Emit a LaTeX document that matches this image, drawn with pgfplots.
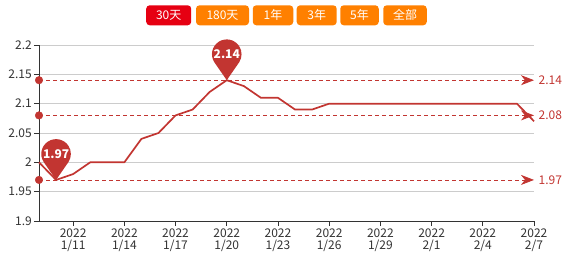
\documentclass[border=0pt]{standalone}
\usepackage{pgfplots}
\pgfplotsset{compat=1.18}
\usepackage{pgfplotstable}
\usepackage{fontspec}
\setmainfont{Noto Sans CJK SC}
\usetikzlibrary{arrows.meta}

\definecolor{lineRed}{HTML}{C23531}
\definecolor{btnRed}{HTML}{E60012}
\definecolor{btnOrange}{HTML}{FF8000}
\definecolor{gridGray}{HTML}{CCCCCC}
\definecolor{axisDark}{HTML}{333333}
\definecolor{labelGray}{HTML}{333333}

% balloon-shaped marker: tip at the data point, round head above it
\pgfdeclareplotmark{pin}{%
  \pgfpathmoveto{\pgfpointorigin}%
  \pgfpathlineto{\pgfpointadd{\pgfpoint{0pt}{26pt}}{\pgfpointpolar{212.6}{14.8pt}}}%
  \pgfpatharc{212.6}{-32.6}{14.8pt}%
  \pgfpathclose
  \pgfusepathqfill
}

% day index (0 = 1/9) and unit net value
\pgfplotstableread{
day value
0 2.00
1 1.97
2 1.98
3 2.00
4 2.00
5 2.00
6 2.04
7 2.05
8 2.08
9 2.09
10 2.12
11 2.14
12 2.13
13 2.11
14 2.11
15 2.09
16 2.09
17 2.10
18 2.10
19 2.10
20 2.10
21 2.10
22 2.10
23 2.10
24 2.10
25 2.10
26 2.10
27 2.10
28 2.10
29 2.07
}\navdata

\newcommand{\btnfont}{\fontsize{12}{12}\selectfont}
\newcommand{\tickfont}{\fontsize{12}{12}\selectfont}

\begin{document}
\begin{tikzpicture}
\useasboundingbox (0,0) rectangle (577pt,254pt);

% range buttons
\tikzset{btn/.style={rounded corners=3.5pt, minimum height=20pt, inner sep=0pt,
  text=white, font=\btnfont}}
\node[btn, fill=btnRed,    minimum width=45pt] at (168.7pt,238.7pt) {30天};
\node[btn, fill=btnOrange, minimum width=53pt] at (222.5pt,238.7pt) {180天};
\node[btn, fill=btnOrange, minimum width=40.5pt] at (273pt,238.7pt) {1年};
\node[btn, fill=btnOrange, minimum width=40pt] at (316.7pt,238.7pt) {3年};
\node[btn, fill=btnOrange, minimum width=38.5pt] at (359.5pt,238.7pt) {5年};
\node[btn, fill=btnOrange, minimum width=43.5pt] at (405pt,238.7pt) {全部};

\begin{axis}[
  at={(39pt,33pt)}, anchor=south west,
  width=495pt, height=176pt, scale only axis,
  xmin=0, xmax=29, ymin=1.9, ymax=2.2,
  axis x line*=bottom, axis y line*=left,
  axis line style={axisDark, line width=0.8pt},
  every tick/.style={axisDark, line width=0.8pt},
  tick align=outside, major tick length=5pt,
  ytick={1.9,1.95,2,2.05,2.1,2.15,2.2},
  yticklabels={1.9,1.95,2,2.05,2.1,2.15,2.2},
  xtick={2,5,8,11,14,17,20,23,26,29},
  xticklabels={2022\\1/11,2022\\1/14,2022\\1/17,2022\\1/20,2022\\1/23,
               2022\\1/26,2022\\1/29,2022\\2/1,2022\\2/4,2022\\2/7},
  x tick label style={align=center, font=\tickfont, text=labelGray, inner sep=1pt, yshift=-2pt},
  y tick label style={font=\tickfont, text=labelGray, inner sep=1pt, xshift=-1pt},
  ymajorgrids, grid style={gridGray, line width=0.8pt},
  clip=false,
]
% net value line
\addplot[lineRed, line width=1.7pt, line join=round, mark=none]
  table[x=day, y=value] {\navdata};

% max / average / min reference lines
\addplot[lineRed, line width=0.8pt, dash pattern=on 4pt off 3pt,
  -{Stealth[length=13pt, width=10pt, inset=4pt]}]
  coordinates {(0,2.14) (29,2.14)}
  node[pos=1, anchor=west, xshift=1pt, font=\tickfont, text=lineRed] {2.14};
\addplot[lineRed, line width=0.8pt, dash pattern=on 4pt off 3pt,
  -{Stealth[length=13pt, width=10pt, inset=4pt]}]
  coordinates {(0,2.08) (29,2.08)}
  node[pos=1, anchor=west, xshift=1pt, font=\tickfont, text=lineRed] {2.08};
\addplot[lineRed, line width=0.8pt, dash pattern=on 4pt off 3pt,
  -{Stealth[length=13pt, width=10pt, inset=4pt]}]
  coordinates {(0,1.97) (29,1.97)}
  node[pos=1, anchor=west, xshift=1pt, font=\tickfont, text=lineRed] {1.97};
\addplot[only marks, mark=*, mark size=3.8pt, lineRed, mark options={fill=lineRed, draw=none}]
  coordinates {(0,2.14) (0,2.08) (0,1.97)};

% max / min pins
\addplot[only marks, mark=pin, mark options={fill=lineRed, draw=none},
  point meta=explicit symbolic,
  nodes near coords,
  nodes near coords style={anchor=center, yshift=26pt, text=white, font=\tickfont\bfseries}]
  coordinates {(1,1.97) [1.97] (11,2.14) [2.14]};
\end{axis}
\end{tikzpicture}
\end{document}
